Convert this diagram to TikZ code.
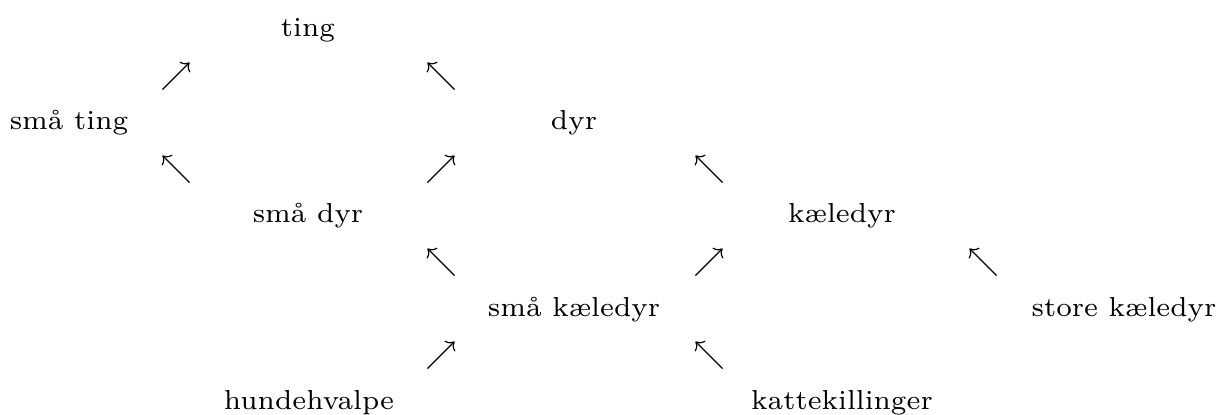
\documentclass[tikz,border=0pt]{standalone}
\usetikzlibrary{arrows.meta}
\tikzset{
  term/.style={inner sep=0pt, anchor=base, font=\fontsize{7}{8.4}\selectfont},
  arr/.style={line width=0.3pt, -{Computer Modern Rightarrow[length=1.8pt,width=3.8pt]}}
}
\newcommand\nearr[3]{\coordinate (#1s) at (#2-13.5,#3+13.5); \coordinate (#1e) at (#2+13.5,#3-13.5); \draw[arr] (#1s) -- (#1e);}
\newcommand\nwarr[3]{\coordinate (#1s) at (#2+13.5,#3+13.5); \coordinate (#1e) at (#2-13.5,#3-13.5); \draw[arr] (#1s) -- (#1e);}
\begin{document}
\begin{tikzpicture}[x=0.255pt,y=-0.255pt]
\useasboundingbox (0,0) rectangle (1218,414);
% terms
\node[term] (ting) at (308,36) {ting};
\node[term] (smating) at (69,129) {små ting};
\node[term] (dyr) at (574,129) {dyr};
\node[term] (smadyr) at (308,222) {små dyr};
\node[term] (kaeledyr) at (842,222) {kæledyr};
\node[term] (smakaeledyr) at (574,316) {små kæledyr};
\node[term] (storekaeledyr) at (1124,316) {store kæledyr};
\node[term] (hundehvalpe) at (309,409) {hundehvalpe};
\node[term] (kattekillinger) at (842,409) {kattekillinger};
% arrows
\nearr{a11}{176}{76}
\nwarr{a12}{441}{76}
\nwarr{a21}{176}{169}
\nearr{a22}{441}{169}
\nwarr{a23}{709}{169}
\nwarr{a31}{441}{262}
\nearr{a32}{709}{262}
\nwarr{a33}{983}{262}
\nearr{a41}{441}{355}
\nwarr{a42}{709}{355}
\end{tikzpicture}
\end{document}
